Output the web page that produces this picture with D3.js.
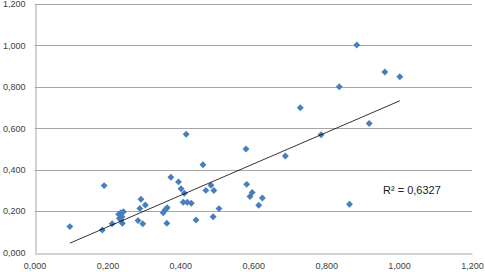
<!DOCTYPE html>
<html>
<head>
<meta charset="utf-8">
<script src="https://cdn.jsdelivr.net/npm/d3@7"></script>
<style>
  body { margin: 0; background: #fff; }
  svg { display: block; }
  .tick text { font-family: "Liberation Sans", Arial, sans-serif; font-size: 9px; fill: #404040; }
</style>
</head>
<body>
<svg id="chart" width="485" height="272"></svg>
<script>
// values
var xValues = [0.097, 0.191, 0.186, 0.213, 0.231, 0.237, 0.244, 0.233, 0.240, 0.241,
               0.237, 0.292, 0.289, 0.304, 0.284, 0.297, 0.416, 0.580, 0.462, 0.374,
               0.395, 0.402, 0.411, 0.408, 0.419, 0.430, 0.470, 0.484, 0.492, 0.506,
               0.490, 0.443, 0.363, 0.353, 0.358, 0.364, 0.582, 0.591, 0.597, 0.625,
               0.615, 0.688, 0.729, 0.786, 0.836, 0.884, 0.961, 1.002, 0.918, 0.864];
var yValues = [0.125, 0.323, 0.109, 0.139, 0.185, 0.192, 0.197, 0.165, 0.173, 0.141,
               0.157, 0.257, 0.213, 0.229, 0.154, 0.139, 0.571, 0.500, 0.424, 0.363,
               0.341, 0.308, 0.286, 0.243, 0.243, 0.238, 0.300, 0.325, 0.299, 0.212,
               0.173, 0.157, 0.141, 0.192, 0.205, 0.216, 0.329, 0.270, 0.290, 0.263,
               0.228, 0.466, 0.699, 0.569, 0.800, 1.002, 0.872, 0.849, 0.623, 0.233];
var ticks = [0, 0.2, 0.4, 0.6, 0.8, 1.0, 1.2];
var r2Label = "R² = 0,6327";

var svg = d3.select("#chart");
var fmt = d => d3.format(".3f")(d).replace(".", ",");

var x = d3.scaleLinear().domain([0, 1.2]).range([34.5, 472]);
var y = d3.scaleLinear().domain([0, 1.2]).range([252.5, 4]);

// horizontal gridlines
svg.append("g").selectAll("line")
    .data(ticks.slice(1))
    .enter().append("line")
    .attr("x1", x(0)).attr("x2", x(1.2))
    .attr("y1", d => Math.round(y(d)) + 0.5).attr("y2", d => Math.round(y(d)) + 0.5)
    .attr("stroke", "#a6a6a6").attr("stroke-width", 1);

const xAxis = svg.append("g")
    .attr("transform", `translate(0,${Math.round(y(0)) + 0.5})`)
    .call(d3.axisBottom(x).tickValues(ticks).tickFormat(fmt).tickSize(0).tickPadding(9));
const yAxis = svg.append("g")
    .attr("transform", `translate(${Math.round(x(0)) + 0.5},0)`)
    .call(d3.axisLeft(y).tickValues(ticks).tickFormat(fmt).tickSize(0).tickPadding(10));
svg.selectAll(".domain").attr("stroke", "#a6a6a6");

// data points (diamonds)
var pts = xValues.map((v, i) => ({x: v, y: yValues[i]}));
svg.append("g").selectAll("path")
    .data(pts)
    .enter().append("path")
    .attr("d", d3.symbol(d3.symbolSquare, 24))
    .attr("transform", d => `translate(${x(d.x)},${y(d.y)}) rotate(45)`)
    .attr("fill", "#4a7ebb");

// least-squares trendline
var mx = d3.mean(xValues), my = d3.mean(yValues);
var sxy = d3.sum(pts, d => (d.x - mx) * (d.y - my));
var sxx = d3.sum(pts, d => (d.x - mx) * (d.x - mx));
var slope = sxy / sxx, icpt = my - slope * mx;
var ext = d3.extent(xValues);
svg.append("line")
    .attr("x1", x(ext[0])).attr("y1", y(icpt + slope * ext[0]))
    .attr("x2", x(ext[1])).attr("y2", y(icpt + slope * ext[1]))
    .attr("stroke", "#000").attr("stroke-width", 0.8);

svg.append("text")
    .attr("x", 383).attr("y", 194)
    .attr("font-family", "Liberation Sans, Arial, sans-serif")
    .attr("font-size", 11)
    .attr("fill", "#222")
    .text(r2Label);
</script>
</body>
</html>
